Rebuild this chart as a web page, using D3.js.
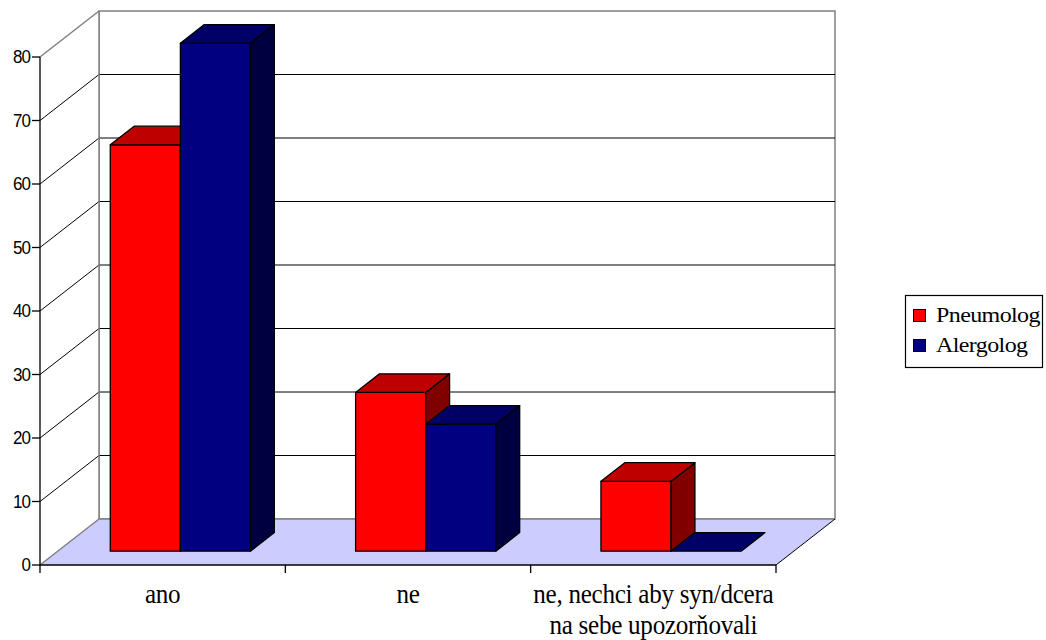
<!DOCTYPE html>
<html>
<head>
<meta charset="utf-8">
<script src="https://cdn.jsdelivr.net/npm/d3@7"></script>
<style>
  html, body { margin: 0; padding: 0; background: #fff; }
  svg { display: block; }
</style>
</head>
<body>
<svg id="chart" width="1046" height="640"></svg>
<script>
// Survey answers (percent) by specialist type
const categories = ["ano", "ne", "ne, nechci aby syn/dcera|na sebe upozorňovali"];
const seriesNames = ["Pneumolog", "Alergolog"];
const pneumolog = [64, 25, 11];
const alergolog = [80, 20, 0];
const yTicks = [0, 10, 20, 30, 40, 50, 60, 70, 80];

// face shades: front, top, side
const shades = {
  Pneumolog: ["#ff0000", "#bf0000", "#800000"],
  Alergolog: ["#000080", "#000066", "#000040"]
};

const svg = d3.select("#chart");

// front plane of the plot box
const x = d3.scaleBand().domain(categories).range([40, 776]).paddingInner(0).paddingOuter(0);
const xs = d3.scaleBand().domain(seriesNames).range([0, x.bandwidth()]).paddingInner(0).paddingOuter(0.75);
const y = d3.scaleLinear().domain([0, 80]).range([565, 57]);

// depth projection (z from 0 = front to 1 = back wall)
const DX = 59, DY = 46;
const P = (px, py, z) => [px + z * DX, py - z * DY];
const poly = pts => "M" + pts.map(p => p.join(",")).join("L") + "Z";
const line = (a, b) => "M" + a.join(",") + "L" + b.join(",");

const xL = x.range()[0], xR = x.range()[1];
const yB = y(0), yT = y(80);

// back wall and left side wall
svg.append("path").attr("d", poly([P(xL, yB, 1), P(xR, yB, 1), P(xR, yT, 1), P(xL, yT, 1)]))
  .attr("fill", "#fff").attr("stroke", "#808080").attr("stroke-width", 1.5);
svg.append("path").attr("d", poly([P(xL, yB, 0), P(xL, yB, 1), P(xL, yT, 1), P(xL, yT, 0)]))
  .attr("fill", "#fff").attr("stroke", "none");

// gridlines on the back wall and the side wall
const inner = yTicks.filter(t => t > 0 && t < 80);
svg.append("g").selectAll("path").data(inner).join("path")
  .attr("d", t => line(P(xL, y(t), 1), P(xR, y(t), 1)))
  .attr("stroke", "#000").attr("stroke-width", 1).attr("fill", "none");
svg.append("g").selectAll("path").data(inner).join("path")
  .attr("d", t => line(P(xL, y(t), 0), P(xL, y(t), 1)))
  .attr("stroke", "#000").attr("stroke-width", 1).attr("fill", "none");
svg.append("path").attr("d", line(P(xL, yT, 0), P(xL, yT, 1)))
  .attr("stroke", "#808080").attr("stroke-width", 1.5);
svg.append("path").attr("d", line(P(xL, yT, 1), P(xL, yB, 1)))
  .attr("stroke", "#808080").attr("stroke-width", 1.5);

// floor
svg.append("path").attr("d", poly([P(xL, yB, 0), P(xR, yB, 0), P(xR, yB, 1), P(xL, yB, 1)]))
  .attr("fill", "#ccccff").attr("stroke", "none");
svg.append("path").attr("d", line(P(xL, yB, 1), P(xR, yB, 1)))
  .attr("stroke", "#808080").attr("stroke-width", 1.5);
svg.append("path").attr("d", line(P(xL, yB, 0), P(xL, yB, 1)))
  .attr("stroke", "#808080").attr("stroke-width", 1.5);
svg.append("path").attr("d", line(P(xR, yB, 0), P(xR, yB, 1)))
  .attr("stroke", "#000").attr("stroke-width", 1);

// bars
const Z0 = 0.30, Z1 = 0.705;
const rows = [];
categories.forEach((c, i) => {
  rows.push({ cat: c, name: "Pneumolog", value: pneumolog[i] });
  rows.push({ cat: c, name: "Alergolog", value: alergolog[i] });
});
const barG = svg.append("g").attr("stroke", "#000").attr("stroke-width", 1.3).attr("stroke-linejoin", "round");
rows.forEach(d => {
  const x0 = x(d.cat) + xs(d.name), x1 = x0 + xs.bandwidth();
  const y0 = y(0), yv = y(d.value);
  const [front, top, side] = shades[d.name];
  const g = barG.append("g");
  if (d.value > 0) {
    g.append("path").attr("fill", front)
      .attr("d", poly([P(x0, y0, Z0), P(x1, y0, Z0), P(x1, yv, Z0), P(x0, yv, Z0)]));
    g.append("path").attr("fill", side)
      .attr("d", poly([P(x1, y0, Z0), P(x1, y0, Z1), P(x1, yv, Z1), P(x1, yv, Z0)]));
  }
  g.append("path").attr("fill", top)
    .attr("d", poly([P(x0, yv, Z0), P(x1, yv, Z0), P(x1, yv, Z1), P(x0, yv, Z1)]));
});

// value axis
const yAxis = svg.append("g").attr("transform", `translate(${xL},0)`);
yAxis.append("path").attr("d", `M0,${yT}V${yB + 8}`).attr("stroke", "#000").attr("stroke-width", 1.3);
yAxis.selectAll("line.tick").data(yTicks).join("line")
  .attr("x1", -8).attr("x2", 0).attr("y1", d => y(d)).attr("y2", d => y(d))
  .attr("stroke", "#000").attr("stroke-width", 1.3);
yAxis.selectAll("text").data(yTicks).join("text")
  .attr("transform", d => `translate(-10,${y(d) + 6}) scale(1,1.05)`)
  .attr("text-anchor", "end")
  .attr("font-family", "Liberation Sans, Arial, sans-serif")
  .attr("font-size", 17).attr("letter-spacing", -1)
  .attr("fill", "#000")
  .text(d => d);

// category axis
svg.append("path").attr("d", `M${xL},${yB}H${xR}`).attr("stroke", "#000").attr("stroke-width", 1.3);
const bounds = categories.map(c => x(c)).concat([xR]);
svg.append("g").selectAll("line").data(bounds.slice(1)).join("line")
  .attr("x1", d => d).attr("x2", d => d).attr("y1", yB).attr("y2", yB + 8)
  .attr("stroke", "#000").attr("stroke-width", 1.3);

const catG = svg.append("g")
  .attr("font-family", "'Liberation Serif', 'Times New Roman', serif")
  .attr("font-size", 27).attr("fill", "#000").attr("text-anchor", "middle");
categories.forEach(c => {
  const cx = x(c) + x.bandwidth() / 2;
  c.split("|").forEach((ln, j) => {
    catG.append("text")
      .attr("transform", `translate(${cx},${603 + j * 31}) scale(0.93,1)`)
      .attr("letter-spacing", -0.3)
      .text(ln);
  });
});

// legend
const lg = svg.append("g").attr("transform", "translate(905,295)");
lg.append("rect").attr("x", 0.5).attr("y", 0.5).attr("width", 137).attr("height", 72)
  .attr("fill", "#fff").attr("stroke", "#000").attr("stroke-width", 1.2);
seriesNames.forEach((name, i) => {
  const gy = 14 + i * 30;
  lg.append("rect").attr("x", 8.5).attr("y", gy + 0.5).attr("width", 12).attr("height", 12)
    .attr("fill", shades[name][0]).attr("stroke", "#000").attr("stroke-width", 1);
  lg.append("text")
    .attr("transform", `translate(31,${gy + 13}) scale(1.2,1)`)
    .attr("font-family", "'Liberation Serif', 'Times New Roman', serif")
    .attr("font-size", 20).attr("letter-spacing", -0.5).attr("fill", "#000")
    .text(name);
});
</script>
</body>
</html>
